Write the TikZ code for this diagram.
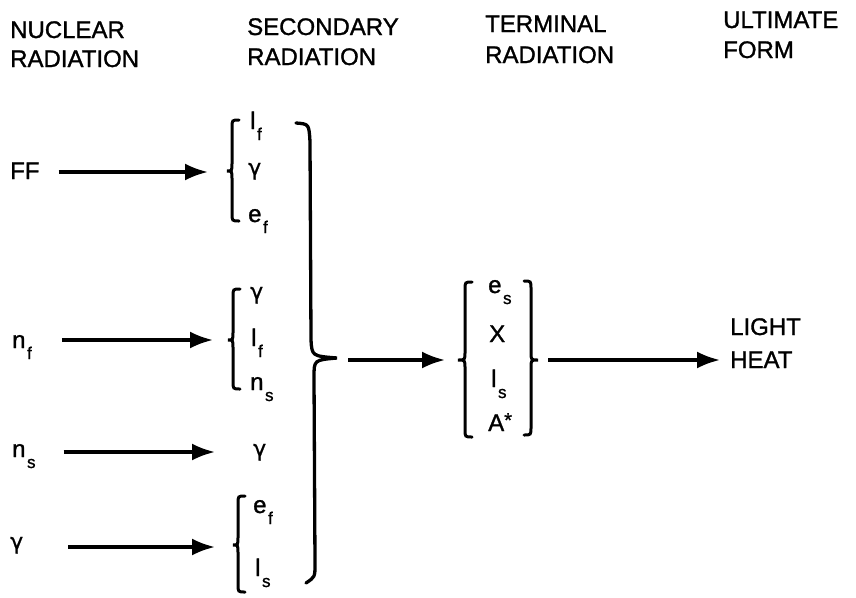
\documentclass[tikz,border=0pt]{standalone}
\usepackage{fontspec}
\setmainfont{Liberation Sans}[FakeBold=1.2]
\newfontfamily\gfont{DejaVu Sans}[FakeBold=0.8]
\usetikzlibrary{arrows.meta}
\newcommand\mysub[1]{\kern1.5pt\raisebox{-11pt}{\fontsize{17}{17}\selectfont #1}}
\newcommand\gam{{\gfont\fontsize{22}{26}\selectfont γ}}
\newcommand\mylbr[5]{% tip x, vertical x, top y, mid y, bottom y
  \draw[brc] ({#2+7},#3) .. controls (#2,#3) .. (#2,{#3+8}) -- (#2,{#4-8})
    .. controls (#2,#4) .. (#1,#4) .. controls (#2,#4) .. (#2,{#4+8})
    -- (#2,{#5-8}) .. controls (#2,#5) .. ({#2+7},#5);}
\newcommand\myrbr[5]{% tip x, vertical x, top y, mid y, bottom y
  \draw[brc] ({#2-7},#3) .. controls (#2,#3) .. (#2,{#3+8}) -- (#2,{#4-8})
    .. controls (#2,#4) .. (#1,#4) .. controls (#2,#4) .. (#2,{#4+8})
    -- (#2,{#5-8}) .. controls (#2,#5) .. ({#2-7},#5);}
\begin{document}
\begin{tikzpicture}[x=1pt,y=-1pt,
  lab/.style={anchor=base west, inner sep=0pt, font=\fontsize{24}{28}\selectfont},
  arr/.style={line width=3.2pt, -{Latex[length=23pt,width=17pt]}},
  brc/.style={line width=3pt, line cap=round}]
\useasboundingbox (0,0) rectangle (856,597);
% headers
\node[lab] (h1a) at (10,38) {NUCLEAR};
\node[lab] (h1b) at (10,67) {RADIATION};
\node[lab] (h2a) at (247,35) {SECONDARY};
\node[lab] (h2b) at (247,65) {RADIATION};
\node[lab] (h3a) at (485,32) {TERMINAL};
\node[lab] (h3b) at (485,63) {RADIATION};
\node[lab] (h4a) at (723,28) {ULTIMATE};
\node[lab] (h4b) at (723,58) {FORM};
% nuclear radiation
\node[lab] (FF) at (10,179) {FF};
\node[lab] (nf) at (12,348) {n\mysub{f}};
\node[lab] (ns) at (12,457) {n\mysub{s}};
\node[lab] (gm) at (10,549) {\gam};
% secondary radiation
\node[lab] (s1a) at (250,129) {l\mysub{f}};
\node[lab] (s1b) at (248,175) {\gam};
\node[lab] (s1c) at (248,222) {e\mysub{f}};
\node[lab] (s2a) at (250,299) {\gam};
\node[lab] (s2b) at (251,346) {l\mysub{f}};
\node[lab] (s2c) at (250,390) {n\mysub{s}};
\node[lab] (s3) at (253,456) {\gam};
\node[lab] (s4a) at (253,513) {e\mysub{f}};
\node[lab] (s4b) at (255,576) {l\mysub{s}};
% terminal radiation
\node[lab] (t1) at (488,293) {e\mysub{s}};
\node[lab] (t2) at (489,342) {X};
\node[lab] (t3) at (491,387) {l\mysub{s}};
\node[lab] (t4) at (488,431) {A\raisebox{4pt}{\fontsize{20}{20}\selectfont *}};
% ultimate form
\node[lab] (light) at (730,335) {LIGHT};
\node[lab] (heat) at (730,368) {HEAT};
% braces
\mylbr{227}{232}{120}{171}{221}
\mylbr{228}{233}{289}{340}{389}
\mylbr{233}{238}{496}{545}{592}
\mylbr{458}{465}{282}{360}{437}
\myrbr{538}{531}{281}{360}{435}
\draw[line width=3.3pt, line cap=round] (296,123) .. controls (309,124) .. (310,142)
  -- (311,340) .. controls (312,356) .. (337,358)
  .. controls (314,360) .. (314,377) -- (315,564)
  .. controls (315,577) .. (306,583);
\coordinate (bt) at (337,360);
\coordinate (lt) at (458,360);
\coordinate (rt) at (538,360);
% tips of the input arrows
\coordinate (p1) at (208,172);
\coordinate (p2) at (213,340);
\coordinate (p3) at (215,452);
\coordinate (p4) at (215,547);
\draw[arr, shorten <=19pt] (FF.east |- p1) -- (p1);
\draw[arr, shorten <=30pt] (nf.east |- p2) -- (p2);
\draw[arr, shorten <=28pt] (ns.east |- p3) -- (p3);
\draw[arr, shorten <=45pt] (gm.east |- p4) -- (p4);
\draw[arr, shorten <=11pt, shorten >=13pt] (bt) -- (lt);
\draw[arr, shorten <=10pt, shorten >=10pt] (rt) -- (rt -| heat.west);
\end{tikzpicture}
\end{document}
